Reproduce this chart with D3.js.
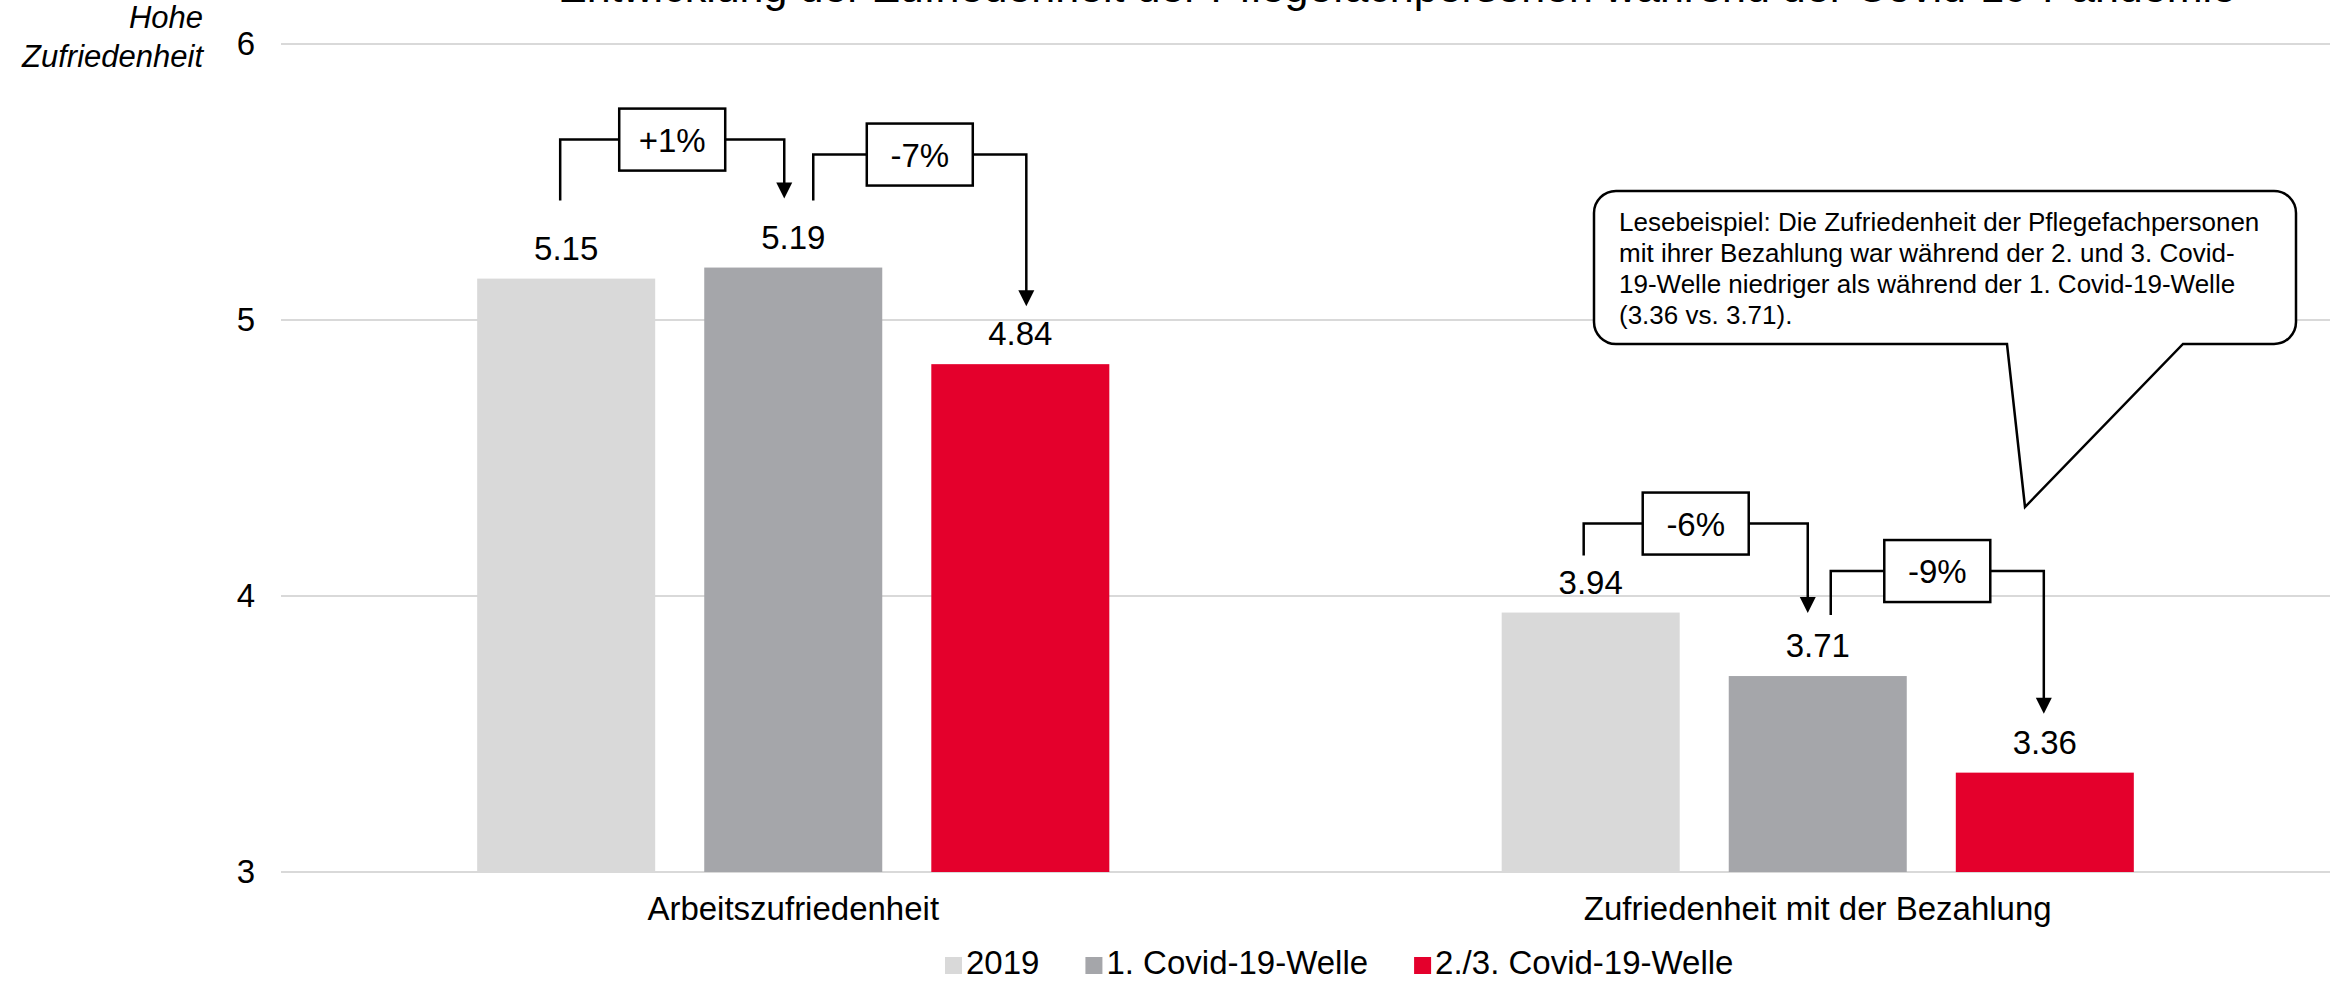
<!DOCTYPE html>
<html>
<head>
<meta charset="utf-8">
<script src="https://cdn.jsdelivr.net/npm/d3@7"></script>
<style>
body { margin: 0; background: #fff; }
svg text { font-family: "Liberation Sans", Arial, sans-serif; fill: #000; }
</style>
</head>
<body>
<svg id="chart" width="2343" height="981"></svg>
<script>
// chart data
var categories = ["Arbeitszufriedenheit", "Zufriedenheit mit der Bezahlung"];
var seriesNames = ["2019", "1. Covid-19-Welle", "2./3. Covid-19-Welle"];
var values2019 = [5.15, 3.94];
var valuesWave1 = [5.19, 3.71];
var valuesWave23 = [4.84, 3.36];
var yTicks = [3, 4, 5, 6];
var changeLabels = [["+1%", "-7%"], ["-6%", "-9%"]];
var titleText = "Entwicklung der Zufriedenheit der Pflegefachpersonen während der Covid-19-Pandemie";
var yLabelLines = ["Hohe", "Zufriedenheit"];
var noteLines = [
    "Lesebeispiel: Die Zufriedenheit der Pflegefachpersonen",
    "mit ihrer Bezahlung war während der 2. und 3. Covid-",
    "19-Welle niedriger als während der 1. Covid-19-Welle",
    "(3.36 vs. 3.71)."
];

var seriesValues = [values2019, valuesWave1, valuesWave23];
var colorArray = ["#d9d9d9", "#a5a6aa", "#e4002c"];

var svg = d3.select("#chart");

var plotLeft = 281, plotRight = 2330;
var plotTop = 44, plotBottom = 872;

// scales
var x0 = d3.scaleBand().domain(categories).range([plotLeft, plotRight]);
var x1 = d3.scaleBand().domain(seriesNames).range([0, x0.bandwidth()])
    .paddingInner(0.216).paddingOuter(0.864);
var y = d3.scaleLinear().domain([3, 6]).range([plotBottom, plotTop]);

function barCenter(ci, si) {
    return x0(categories[ci]) + x1(seriesNames[si]) + x1.bandwidth() / 2;
}

// title (cut at the top edge, only the lower part shows)
svg.append("text")
    .attr("x", 1397)
    .attr("y", 2)
    .attr("text-anchor", "middle")
    .style("font-size", "43px")
    .text(titleText);

// grid lines
svg.selectAll(".grid")
    .data(yTicks)
    .enter()
    .append("line")
        .attr("class", "grid")
        .attr("x1", plotLeft)
        .attr("x2", plotRight)
        .attr("y1", function(d) { return y(d); })
        .attr("y2", function(d) { return y(d); })
        .attr("stroke", "#d9d9d9")
        .attr("stroke-width", 2);

// y axis labels
var yAxis = d3.axisLeft(y).tickValues(yTicks).tickSize(0).tickPadding(26)
    .tickFormat(d3.format("d"));
var yObj = svg.append("g")
    .attr("transform", "translate(" + plotLeft + ",0)")
    .call(yAxis);
yObj.select(".domain").remove();
yObj.selectAll("text")
    .style("font-size", "33px")
    .style("font-family", "'Liberation Sans', Arial, sans-serif")
    .attr("fill", "#000");

// y axis title
svg.selectAll(".ylabel")
    .data(yLabelLines)
    .enter()
    .append("text")
        .attr("class", "ylabel")
        .attr("x", 203)
        .attr("y", function(d, i) { return 28 + i * 39; })
        .attr("text-anchor", "end")
        .style("font-size", "31px")
        .style("font-style", "italic")
        .text(function(d) { return d; });

// bars and value labels
categories.forEach(function(cat, ci) {
    seriesNames.forEach(function(name, si) {
        var v = seriesValues[si][ci];
        svg.append("rect")
            .attr("x", x0(cat) + x1(name))
            .attr("y", y(v))
            .attr("width", x1.bandwidth())
            .attr("height", y(3) - y(v))
            .attr("fill", colorArray[si]);

        svg.append("text")
            .attr("x", barCenter(ci, si))
            .attr("y", y(v) - 19)
            .attr("text-anchor", "middle")
            .style("font-size", "33px")
            .text(d3.format(".2f")(v));
    });

    svg.append("text")
        .attr("x", x0(cat) + x0.bandwidth() / 2)
        .attr("y", 920)
        .attr("text-anchor", "middle")
        .style("font-size", "33px")
        .text(cat);
});

// change brackets: offsets from bar centres / bar tops
var bracketLayout = [
    [{dxs: -6, sy: 78, dxe: -9, ty: 69, ly: 139}, {dxs: 20, sy: 67, dxe: 6, ty: 58, ly: 113}],
    [{dxs: -7, sy: 57, dxe: -10, ty: 63, ly: 89}, {dxs: 13, sy: 61, dxe: -1, ty: 59, ly: 105}]
];

categories.forEach(function(cat, ci) {
    changeLabels[ci].forEach(function(label, k) {
        var lay = bracketLayout[ci][k];
        var vFrom = seriesValues[k][ci];
        var vTo = seriesValues[k + 1][ci];
        var xs = barCenter(ci, k) + lay.dxs;
        var xe = barCenter(ci, k + 1) + lay.dxe;
        var ys = y(vFrom) - lay.sy;
        var ye = y(vTo) - lay.ty;
        var yl = y(vFrom) - lay.ly;

        svg.append("path")
            .attr("d", "M" + xs + "," + ys + "V" + yl + "H" + xe + "V" + (ye - 15))
            .attr("fill", "none")
            .attr("stroke", "#000")
            .attr("stroke-width", 2.5);

        svg.append("path")
            .attr("d", "M" + (xe - 8) + "," + (ye - 16) + "L" + (xe + 8) + "," + (ye - 16) + "L" + xe + "," + ye + "Z")
            .attr("fill", "#000");

        var mid = (xs + xe) / 2;
        svg.append("rect")
            .attr("x", mid - 53)
            .attr("y", yl - 31)
            .attr("width", 106)
            .attr("height", 62)
            .attr("fill", "#fff")
            .attr("stroke", "#000")
            .attr("stroke-width", 2.5);

        svg.append("text")
            .attr("x", mid)
            .attr("y", yl + 12)
            .attr("text-anchor", "middle")
            .style("font-size", "33px")
            .text(label);
    });
});

// reading example callout
var bx0 = 1594, bx1 = 2296, by0 = 191, by1 = 344, r = 22;
var tipX = 2025, tipY = 507, baseA = 2007, baseB = 2183;
var callout = d3.path();
callout.moveTo(bx0 + r, by0);
callout.lineTo(bx1 - r, by0);
callout.arcTo(bx1, by0, bx1, by0 + r, r);
callout.lineTo(bx1, by1 - r);
callout.arcTo(bx1, by1, bx1 - r, by1, r);
callout.lineTo(baseB, by1);
callout.lineTo(tipX, tipY);
callout.lineTo(baseA, by1);
callout.lineTo(bx0 + r, by1);
callout.arcTo(bx0, by1, bx0, by1 - r, r);
callout.lineTo(bx0, by0 + r);
callout.arcTo(bx0, by0, bx0 + r, by0, r);
callout.closePath();

svg.append("path")
    .attr("d", callout.toString())
    .attr("fill", "#fff")
    .attr("stroke", "#000")
    .attr("stroke-width", 2.5);

svg.selectAll(".note")
    .data(noteLines)
    .enter()
    .append("text")
        .attr("class", "note")
        .attr("x", 1619)
        .attr("y", function(d, i) { return 231 + i * 31; })
        .style("font-size", "26px")
        .text(function(d) { return d; });

// legend
var legend = svg.append("g").attr("transform", "translate(945,974)");
var lx = 0;
seriesNames.forEach(function(name, i) {
    legend.append("rect")
        .attr("x", lx)
        .attr("y", -17)
        .attr("width", 17)
        .attr("height", 17)
        .attr("fill", colorArray[i]);
    var t = legend.append("text")
        .attr("x", lx + 21)
        .attr("y", 0)
        .style("font-size", "33px")
        .text(name);
    lx += 21 + t.node().getComputedTextLength() + 46;
});
</script>
</body>
</html>
